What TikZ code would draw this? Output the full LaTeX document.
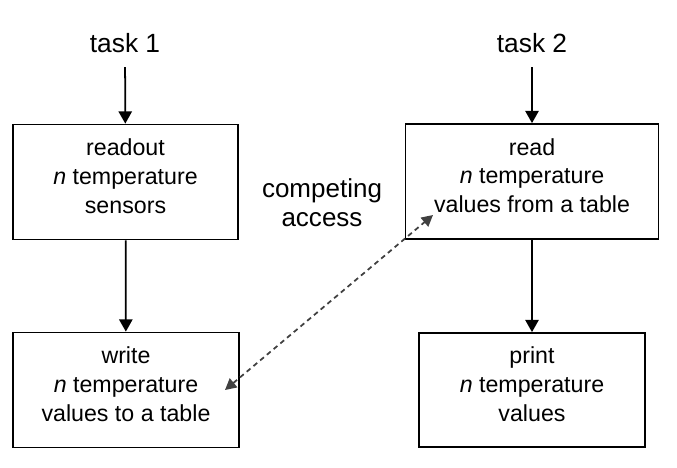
\documentclass[tikz,border=0pt]{standalone}
\usepackage{fontspec}
\setmainfont{Liberation Sans}
\usetikzlibrary{arrows.meta}
\usetikzlibrary{positioning}
\tikzset{taskbox/.style = {draw, line width = 1, minimum height = 2.3cm, align = center, text depth = 0.24cm, font = \fontsize{13.2}{16.4}\selectfont, inner sep = 0},
         tasklabel/.style = {inner sep = 8, font = \fontsize{15}{17}\selectfont},
         flow/.style = {-{Triangle[length=7pt, width=7.6pt]}, line width = 1},
         access/.style = {{Triangle[length=6.4pt, width=6.6pt]}-{Triangle[length=6.4pt, width=6.6pt]}, line width = 1, dash pattern = on 2.8pt off 2.2pt, black!75}}

\begin{document}
\begin{tikzpicture}
        \useasboundingbox (0,0) rectangle (13.54,-9.34);
        \node [tasklabel] (task1) at (2.5,-0.86) {task 1};
        \node [tasklabel] (task2) at (10.64,-0.86) {task 2};
        \node [taskbox, minimum width = 4.5cm] (readout) at (2.51,-3.64) {readout\\ \textit{n} temperature\\ sensors};
        \node [taskbox, minimum width = 4.52cm] (write) at (2.52,-7.8) {write\\ \textit{n} temperature\\ values to a table};
        \node [taskbox, minimum width = 5.06cm] (read) at (10.64,-3.63) {read\\ \textit{n} temperature\\ values from a table};
        \node [taskbox, minimum width = 4.52cm, minimum height = 2.28cm] (print) at (10.64,-7.8) {print\\ \textit{n} temperature\\ values};
        \node [align = center, font = \fontsize{14.8}{16.4}\selectfont] (competing) at (6.44,-4.05) {competing\\ access};
        \coordinate (wtip) at (4.5,-7.8);
        \coordinate (rtip) at (8.66,-4.3);
        \draw [flow] (task1) -- (readout);
        \draw [flow] (task2) -- (read);
        \draw [flow] (readout) -- (write);
        \draw [flow] (read) -- (print);
        \draw [access] (wtip) -- (rtip);
    \end{tikzpicture}
\end{document}
